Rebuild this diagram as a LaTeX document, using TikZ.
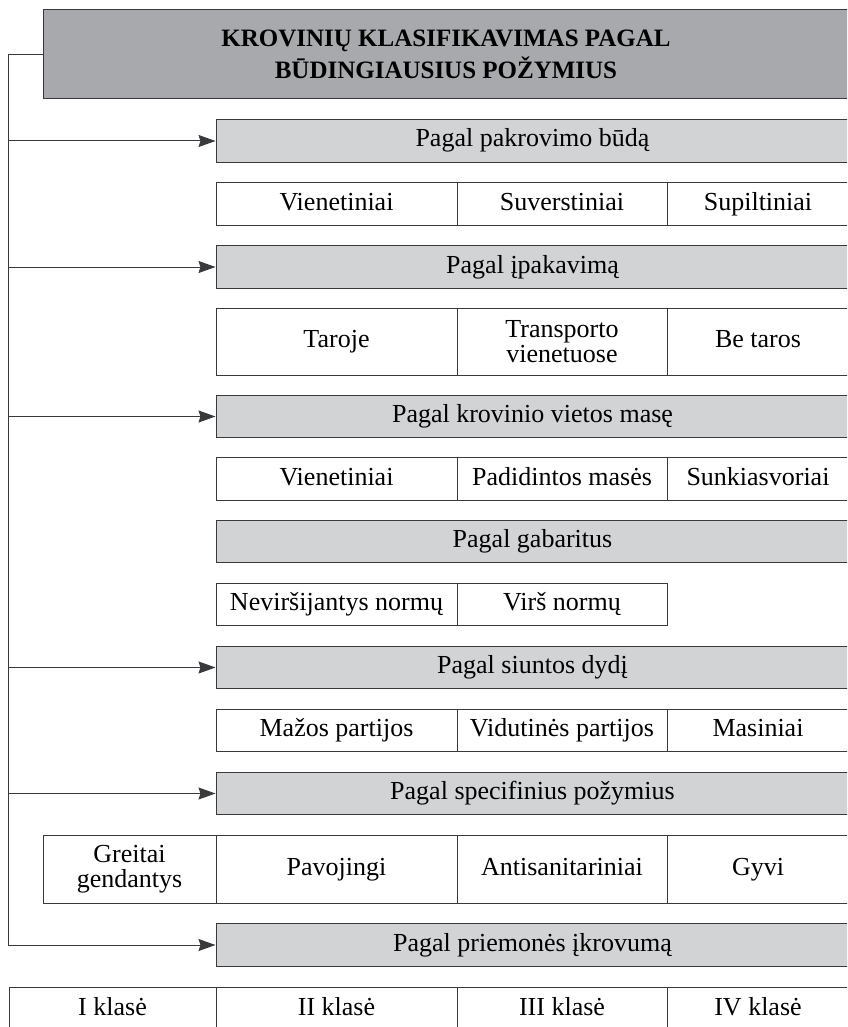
\documentclass[tikz,border=0pt]{standalone}
\usepackage{fontspec}
\setmainfont{Liberation Serif}
\usepackage{xcolor}
\usepackage{tikz}
\usetikzlibrary{arrows.meta}
\definecolor{lin}{HTML}{3A3A3C}
\definecolor{dgrey}{HTML}{A7A9AC}
\definecolor{lgrey}{HTML}{D1D3D4}
\newcommand{\txt}{\fontsize{26}{25}\selectfont}

\begin{document}
\begin{tikzpicture}[x=1pt, y=-1pt,
  ttl/.style={draw=lin, fill=dgrey, font=\fontsize{25}{32}\selectfont\bfseries, align=center,
              inner sep=0pt, minimum width=806pt, minimum height=89pt},
  hdr/.style={draw=lin, fill=lgrey, font=\txt, inner sep=0pt, text height=18pt, text depth=6pt,
              minimum width=633pt, minimum height=42.5pt},
  cell/.style={draw=lin, fill=white, font=\txt, inner sep=0pt, text height=18pt, text depth=6pt,
               minimum height=42.5pt, minimum width=#1},
  cell/.default=241pt,
  wrap/.style={draw=lin, fill=white, font=\txt, align=center, inner sep=0pt,
               minimum width=#1},
  wrap/.default=241pt,
  line width=1pt,
  >={Stealth[length=17pt, width=12pt, inset=2pt]}]
  \useasboundingbox (0,0) rectangle (847,1027);
  \clip (0,0) rectangle (847,1027);
  % title
  \node[ttl] (title) at (446,54.5) {KROVINIŲ KLASIFIKAVIMAS PAGAL\\BŪDINGIAUSIUS POŽYMIUS};
  % pakrovimo budas
  \node[hdr] (h1) at (532.5,141) {Pagal pakrovimo būdą};
  \node[cell]        (a1) at (336.5,204) {Vienetiniai};
  \node[cell=210pt]  (a2) at (562,204)   {Suverstiniai};
  \node[cell=182pt]  (a3) at (758,204)   {Supiltiniai};
  % ipakavimas
  \node[hdr] (h2) at (532.5,267) {Pagal įpakavimą};
  \node[cell, minimum height=67pt]        (b1) at (336.5,341.5) {Taroje};
  \node[wrap=210pt, minimum height=67pt]  (b2) at (562,341.5)   {Transporto\\vienetuose};
  \node[cell=182pt, minimum height=67pt]  (b3) at (758,341.5)   {Be taros};
  % vietos mase
  \node[hdr] (h3) at (532.5,416.5) {Pagal krovinio vietos masę};
  \node[cell]        (c1) at (336.5,479) {Vienetiniai};
  \node[cell=210pt]  (c2) at (562,479)   {Padidintos masės};
  \node[cell=182pt]  (c3) at (758,479)   {Sunkiasvoriai};
  % gabaritai
  \node[hdr] (h4) at (532.5,541.5) {Pagal gabaritus};
  \node[cell]        (d1) at (336.5,604.5) {Neviršijantys normų};
  \node[cell=210pt]  (d2) at (562,604.5)   {Virš normų};
  % siuntos dydis
  \node[hdr] (h5) at (532.5,667.5) {Pagal siuntos dydį};
  \node[cell]        (e1) at (336.5,730.5) {Mažos partijos};
  \node[cell=210pt]  (e2) at (562,730.5)   {Vidutinės partijos};
  \node[cell=182pt]  (e3) at (758,730.5)   {Masiniai};
  % specifiniai pozymiai
  \node[hdr] (h6) at (532.5,793.5) {Pagal specifinius požymius};
  \node[wrap=173pt, minimum height=68pt]  (f1) at (129.5,869) {Greitai\\gendantys};
  \node[cell, minimum height=68pt]        (f2) at (336.5,869) {Pavojingi};
  \node[cell=210pt, minimum height=68pt]  (f3) at (562,869)   {Antisanitariniai};
  \node[cell=182pt, minimum height=68pt]  (f4) at (758,869)   {Gyvi};
  % ikrovumas
  \node[hdr] (h7) at (532.5,945) {Pagal priemonės įkrovumą};
  \node[cell=207pt, minimum height=44pt]  (g1) at (112.5,1009) {I klasė};
  \node[cell, minimum height=44pt]        (g2) at (336.5,1009) {II klasė};
  \node[cell=210pt, minimum height=44pt]  (g3) at (562,1009)   {III klasė};
  \node[cell=182pt, minimum height=44pt]  (g4) at (758,1009)   {IV klasė};
  % spine
  \coordinate (spine) at (8,0);
  \draw[draw=lin, ->] (title.west) -| (spine |- h7.west) -- (h7.west);
  \foreach \h in {h1,h2,h3,h5,h6}
    \draw[draw=lin, ->] (spine |- \h.west) -- (\h.west);
\end{tikzpicture}
\end{document}
